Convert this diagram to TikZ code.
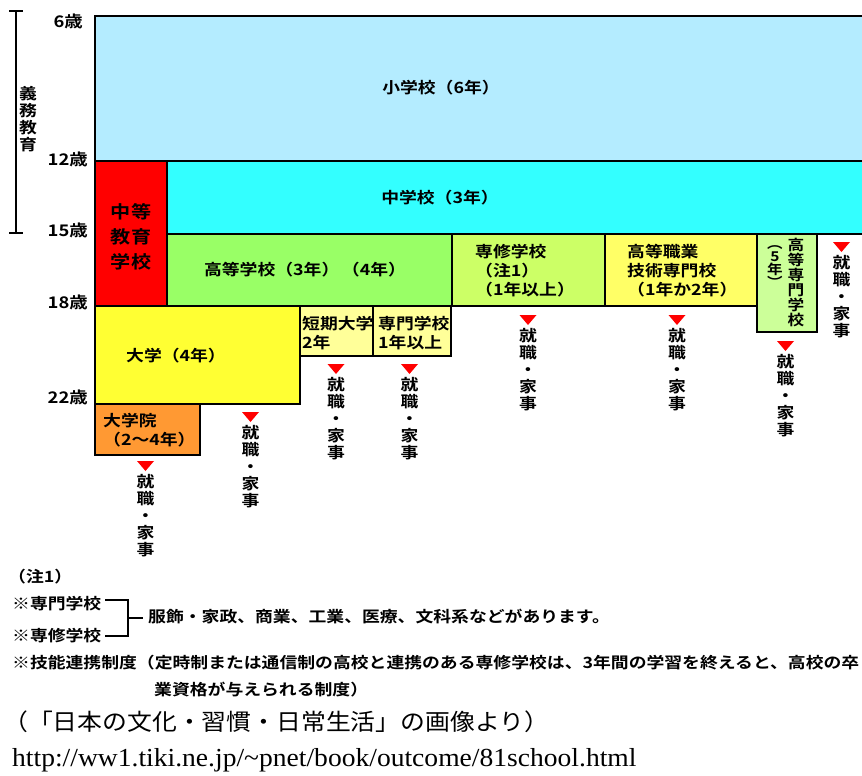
\documentclass[tikz,border=0pt]{standalone}
\usepackage{fontspec}
\setmainfont{Liberation Serif}
\newfontfamily\gothic{Noto Sans CJK JP Bold}[FakeStretch=1.15]
\newfontfamily\mincho{Noto Sans CJK JP}[FakeStretch=1.08]
\newfontfamily\urlfont{Liberation Serif}[FakeStretch=1.06]
\definecolor{shoucol}{RGB}{180,236,255}
\definecolor{chucol}{RGB}{51,255,255}
\definecolor{koucol}{RGB}{153,255,102}
\definecolor{senshucol}{RGB}{204,255,102}
\definecolor{shokucol}{RGB}{255,255,102}
\definecolor{kosencol}{RGB}{204,255,153}
\definecolor{daicol}{RGB}{255,255,51}
\definecolor{tandaicol}{RGB}{255,255,153}
\definecolor{inncol}{RGB}{255,153,51}
\tikzset{
  box/.style={draw=black,line width=1.6pt},
  lbl/.style={font=\gothic\fontsize{15.5}{19}\selectfont,inner sep=0pt,align=left},
  job/.style={font=\gothic\fontsize{15.5}{17}\selectfont,inner sep=0pt,align=center,anchor=north},
  tri/.style={fill=red},
  age/.style={font=\gothic\fontsize{16}{16}\selectfont,inner sep=0pt,anchor=east},
  note/.style={font=\gothic\fontsize{15.5}{19}\selectfont,inner sep=0pt,anchor=west},
  brk/.style={line width=1.8pt}
}
\begin{document}
\begin{tikzpicture}[x=1pt,y=-1pt]
\useasboundingbox (0,0) rectangle (862,776);
\clip (0,0) rectangle (862,776);
% schools
\draw[box,fill=shoucol] (95,16) rectangle (880,161);
\draw[box,fill=chucol] (167,161) rectangle (880,234);
\draw[box,fill=red] (95,161) rectangle (167,306);
\draw[box,fill=koucol] (167,234) rectangle (452,306);
\draw[box,fill=senshucol] (452,234) rectangle (605,306);
\draw[box,fill=shokucol] (605,234) rectangle (757,306);
\draw[box,fill=kosencol] (757,234) rectangle (817,332);
\draw[box,fill=daicol] (95,306) rectangle (300,404);
\draw[box,fill=tandaicol] (300,306) rectangle (373,356);
\draw[box,fill=tandaicol] (373,306) rectangle (451,356);
\draw[box,fill=inncol] (95,404) rectangle (200,455);
\node[lbl] (shou) at (441,88) {小学校（6年）};
\node[lbl] (chu) at (440,198) {中学校（3年）};
\node[lbl,align=center,font=\gothic\fontsize{17.5}{25}\selectfont] (chuto) at (131,237) {中等\\教育\\学校};
\node[lbl] (kou) at (305,270) {高等学校（3年）\,（4年）};
\node[lbl,anchor=west] (senshu) at (475,271) {専修学校\\（注1）\\（1年以上）};
\node[lbl,anchor=west] (shoku) at (627,271) {高等職業\\技術専門校\\（1年か2年）};
\node[lbl,align=center,font=\gothic\fontsize{14.5}{15}\selectfont,anchor=north] (kosen) at (796,238) {高\\等\\専\\門\\学\\校};
\node[lbl,align=center,font=\gothic\fontsize{13.5}{13}\selectfont,anchor=north] (kosennen) at (775,245) {︵\\5\\年\\︶};
\node[lbl] (dai) at (176,356) {大学（4年）};
\node[lbl,anchor=west] (tandai) at (302,333) {短期大学\\2年};
\node[lbl,anchor=west] (senmon) at (378,333) {専門学校\\1年以上};
\node[lbl,anchor=west] (inn) at (103,430) {大学院\\（2〜4年）};
% ages
\node[age] (a6) at (83,21) {6歳};
\node[age] (a12) at (88,159) {12歳};
\node[age] (a15) at (88,230) {15歳};
\node[age] (a18) at (88,302) {18歳};
\node[age] (a22) at (88,397) {22歳};
\draw[brk] (9,11) -- (23,11) (16,11) -- (16,233) (9,233) -- (23,233);
\node[job,font=\gothic\fontsize{15.5}{17}\selectfont] (gimu) at (28,86) {義\\務\\教\\育};
% 就職・家事
\foreach \x/\y [count=\i] in {145.5/461,250.5/412,336/364,409.5/364,528/315,677/315,785.5/341,841.5/242}{
  \fill[tri] (\x-8.5,\y) -- (\x+8.5,\y) -- (\x,\y+10) -- cycle;
  \node[job] (job\i) at (\x,\y+13) {就\\職\\・\\家\\事};
}
% notes
\node[note] (chu1) at (8,577) {（注1）};
\node[note] (nsenmon) at (12,604) {※専門学校};
\node[note] (nsenshu) at (12,636) {※専修学校};
\draw[brk] (105,600) -| (128,636) -- (105,636);
\draw[brk] (128,618) -- (143,618);
\node[note] (bunya) at (148,617) {服飾・家政、商業、工業、医療、文科系などがあります。};
\node[note] (ginou) at (12,663) {※技能連携制度（定時制または通信制の高校と連携のある専修学校は、3年間の学習を終えると、高校の卒};
\node[note] (ginou2) at (154,690) {業資格が与えられる制度）};
\node[font=\mincho\fontsize{23}{23}\selectfont,inner sep=0pt,anchor=west] (inyou) at (3,722) {（「日本の文化・習慣・日常生活」の画像より）};
\node[font=\urlfont\fontsize{26}{26}\selectfont,inner sep=0pt,anchor=west] (url) at (12,760) {http://ww1.tiki.ne.jp/\textasciitilde pnet/book/outcome/81school.html};
\end{tikzpicture}
\end{document}
